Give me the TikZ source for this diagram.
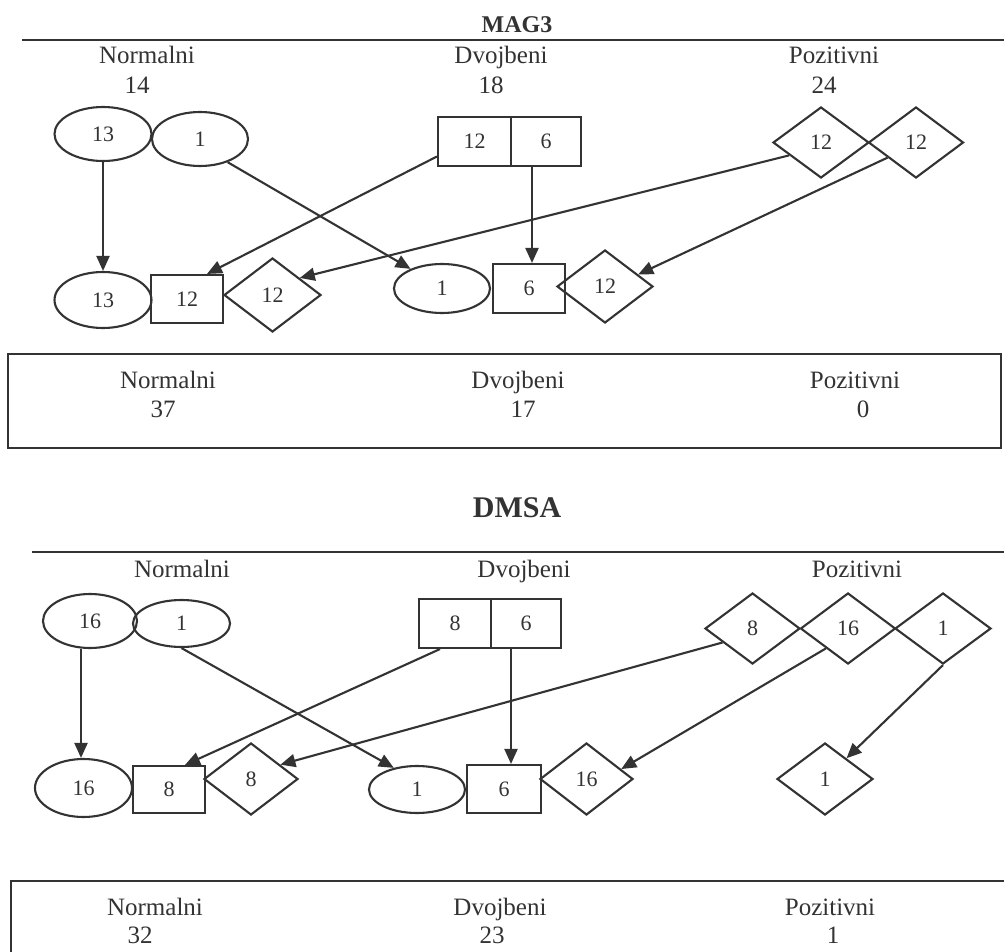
\documentclass[tikz,border=0pt]{standalone}
\usepackage{fontspec}
\setmainfont{Liberation Serif}
\usetikzlibrary{shapes.geometric,arrows.meta,calc}
\definecolor{ink}{HTML}{333333}
\begin{document}
\begin{tikzpicture}[x=1pt,y=-1pt,
  every node/.style={text=ink, inner sep=0pt},
  lab/.style={font=\fontsize{25}{25}\selectfont, anchor=base},
  ttl/.style={font=\bfseries\fontsize{#1}{#1}\selectfont, anchor=base},
  num/.style={font=\fontsize{22}{22}\selectfont},
  ell/.style={draw=ink, line width=2.1pt, ellipse, num},
  rbox/.style={draw=ink, line width=2.1pt, rectangle, num},
  dia/.style={draw=ink, line width=2.1pt, diamond, num},
  rule/.style={draw=ink, line width=2pt},
  frame/.style={draw=ink, line width=2.6pt},
  arr/.style={draw=ink, line width=2.1pt, -{Triangle[length=15pt,width=13pt]}},
]
\fill[white] (0,0) rectangle (1004,952);
\useasboundingbox (0,0) rectangle (1004,952);

% ================= MAG3 =================
\node[ttl=24] (t1) at (517,33) {MAG3};
\coordinate (l1a) at (22,40);
\coordinate (l1b) at (1004,40);
\draw[rule] (l1a) -- (l1b);

\node[lab] (h1n) at (147,64) {Normalni};
\node[lab] (h1nv) at (137,94) {14};
\node[lab] (h1d) at (501,64) {Dvojbeni};
\node[lab] (h1dv) at (491,94) {18};
\node[lab] (h1p) at (834,64) {Pozitivni};
\node[lab] (h1pv) at (824,94) {24};

% top row
\node[ell, minimum width=97, minimum height=54] (e13a) at (103,134) {13};
\node[ell, minimum width=96, minimum height=54] (e1a) at (200,139) {1};
\node[rbox, minimum width=73, minimum height=49] (r12a) at (474.5,141.5) {12};
\node[rbox, minimum width=70, minimum height=49] (r6a) at (546,141.5) {6};
\node[dia, minimum width=96, minimum height=71] (d12a) at (821,142.5) {12};
\node[dia, minimum width=95, minimum height=71] (d12b) at (916,142.5) {12};

% bottom row
\node[ell, minimum width=97, minimum height=56] (e13b) at (103,300) {13};
\node[rbox, minimum width=72, minimum height=48] (r12b) at (187,299) {12};
\node[dia, minimum width=97, minimum height=74] (d12c) at (272.5,295) {12};
\node[ell, minimum width=96, minimum height=49] (e1b) at (442,288.5) {1};
\node[rbox, minimum width=72, minimum height=49] (r6b) at (529,288.5) {6};
\node[dia, minimum width=96, minimum height=73] (d12d) at (605,286.5) {12};

% arrows
\draw[arr] (e13a.south) -- (e13b.north);
\draw[arr] (e1a.-40) -- (e1b.148);
\draw[arr] ([yshift=-15pt]r12a.west) -- ([xshift=20pt]r12b.north);
\draw[arr] (d12a.202) -- (d12c.32);
\coordinate (p6a) at ([xshift=-14pt]r6a.south);
\draw[arr] (p6a) -- (p6a |- r6b.north);
\draw[arr] (d12b.208) -- (d12d.20);

% summary box 1
\coordinate (b1a) at (8,354);
\coordinate (b1b) at (1001,448);
\draw[frame] (b1a) rectangle (b1b);
\node[lab] (s1n) at (168,388) {Normalni};
\node[lab] (s1nv) at (163,417) {37};
\node[lab] (s1d) at (518,388) {Dvojbeni};
\node[lab] (s1dv) at (523,417) {17};
\node[lab] (s1p) at (855,388) {Pozitivni};
\node[lab] (s1pv) at (863,417) {0};

% ================= DMSA =================
\node[ttl=30] (t2) at (517,517) {DMSA};
\coordinate (l2a) at (32,552);
\coordinate (l2b) at (1004,552);
\draw[rule] (l2a) -- (l2b);

\node[lab] (h2n) at (182,577) {Normalni};
\node[lab] (h2d) at (524,577) {Dvojbeni};
\node[lab] (h2p) at (857,577) {Pozitivni};

% top row
\node[ell, minimum width=94, minimum height=54] (e16a) at (90,621) {16};
\node[ell, minimum width=97, minimum height=47] (e1c) at (181.5,623.5) {1};
\node[rbox, minimum width=72, minimum height=49] (r8a) at (455,623.5) {8};
\node[rbox, minimum width=70, minimum height=49] (r6c) at (526,623.5) {6};
\node[dia, minimum width=95, minimum height=71] (d8a) at (752.5,628.5) {8};
\node[dia, minimum width=95, minimum height=71] (d16a) at (848,628.5) {16};
\node[dia, minimum width=96, minimum height=71] (d1a) at (943,628.5) {1};

% bottom row
\node[ell, minimum width=97, minimum height=58] (e16b) at (83.5,788) {16};
\node[rbox, minimum width=72, minimum height=47] (r8b) at (169,789.5) {8};
\node[dia, minimum width=94, minimum height=72] (d8b) at (251,779) {8};
\node[ell, minimum width=96, minimum height=47] (e1d) at (417,789.5) {1};
\node[rbox, minimum width=74, minimum height=48] (r6d) at (504,789) {6};
\node[dia, minimum width=93, minimum height=72] (d16b) at (586.5,779) {16};
\node[dia, minimum width=96, minimum height=72] (d1b) at (825,779) {1};

% arrows
\coordinate (p16) at ([xshift=-9pt]e16a.south);
\draw[arr] (p16) -- (p16 |- e16b.north);
\draw[arr] (e1c.south) -- (e1d.137);
\draw[arr] ([xshift=-15pt]r8a.south) -- ([xshift=16pt]r8b.north);
\draw[arr] (d8a.205) -- (d8b.26);
\coordinate (p6c) at ([xshift=-15pt]r6c.south);
\draw[arr] (p6c) -- (p6c |- r6d.north);
\draw[arr] (d16a.222) -- (d16b.16);
\draw[arr] (d1a.south) -- (d1b.44);

% summary box 2
\coordinate (b2a) at (1004,881);
\coordinate (b2b) at (11,881);
\coordinate (b2c) at (11,952);
\draw[frame] (b2a) -- (b2b) -- (b2c);
\node[lab] (s2n) at (155,915) {Normalni};
\node[lab] (s2nv) at (140,943) {32};
\node[lab] (s2d) at (500,915) {Dvojbeni};
\node[lab] (s2dv) at (492,943) {23};
\node[lab] (s2p) at (830,915) {Pozitivni};
\node[lab] (s2pv) at (833,943) {1};
\end{tikzpicture}
\end{document}
